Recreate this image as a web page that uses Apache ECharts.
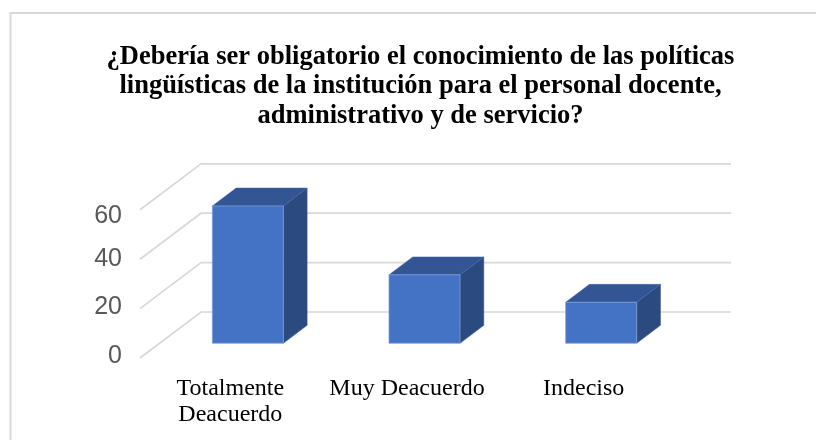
<!DOCTYPE html>
<html>
<head>
<meta charset="utf-8">
<style>
html,body{margin:0;padding:0;background:#fff;}
#c{width:816px;height:440px;}
</style>
<script src="https://cdn.jsdelivr.net/npm/echarts@6/dist/echarts.min.js"></script>
</head>
<body>
<div id="c"></div>
<script>
var titleLines = [
  '¿Debería ser obligatorio el conocimiento de las políticas',
  'lingüísticas de la institución para el personal docente,',
  'administrativo y de servicio?'
];
var categories = ['Totalmente\nDeacuerdo', 'Muy Deacuerdo', 'Indeciso'];
var values = [55.6, 27.7, 16.6];
var ticks = [0, 20, 40, 60];

// Oblique projection of the depth axis (px) and placement of bars within it
var floorDX = 61, floorDY = -46;
var barStart = 0.32, barDepth = 0.39, barWidthRatio = 0.402;

function shift(p, t) { return [p[0] + floorDX * t, p[1] + floorDY * t]; }

function renderBar(params, api) {
  var cat = api.value(0), val = api.value(1);
  var base = api.coord([cat, 0]), top = api.coord([cat, val]);
  var w = api.size([1, 0])[0] * barWidthRatio;
  var a0 = shift([base[0] - w / 2, base[1]], barStart);
  var b0 = shift([base[0] + w / 2, base[1]], barStart);
  var a1 = shift([base[0] - w / 2, top[1]], barStart);
  var b1 = shift([base[0] + w / 2, top[1]], barStart);
  var d = barDepth;
  return {
    type: 'group',
    children: [
      { type: 'polygon', shape: { points: [b0, b1, shift(b1, d), shift(b0, d)] },
        style: { fill: '#2B4A80', stroke: '#3A5E9C', lineWidth: 0.5 } },
      { type: 'polygon', shape: { points: [a1, b1, shift(b1, d), shift(a1, d)] },
        style: { fill: '#335594', stroke: '#3F68AE', lineWidth: 0.5 } },
      { type: 'polygon', shape: { points: [a0, b0, b1, a1] },
        style: { fill: '#4472C4', stroke: '#7F9FD8', lineWidth: 0.75 } }
    ]
  };
}

function renderWall(params, api) {
  var v = api.value(0);
  var left = api.coord([0, v]);
  var xEnd = api.coord([categories.length - 1, v])[0] + api.size([1, 0])[0] / 2;
  left[0] -= api.size([1, 0])[0] / 2;
  var back = shift(left, 1);
  return {
    type: 'polyline',
    shape: { points: [left, back, [xEnd + floorDX, back[1]]] },
    style: { stroke: '#D9D9D9', lineWidth: 1.7, fill: 'none' }
  };
}

function tickRich(pad) {
  return {
    fontFamily: '"Liberation Sans"', fontSize: 25, color: '#595959',
    padding: pad
  };
}

var chart = echarts.init(document.getElementById('c'), null, { renderer: 'canvas' });
chart.setOption({
  animation: false,
  backgroundColor: '#ffffff',
  title: {
    text: titleLines.join('\n'),
    left: 415.5, top: 37, textAlign: 'center',
    textStyle: {
      fontFamily: '"Liberation Serif"', fontWeight: 'bold', fontSize: 26.5,
      lineHeight: 29.5, color: '#000000'
    }
  },
  grid: { left: 140, top: 209.8, width: 530, height: 148.2 },
  xAxis: {
    type: 'category', data: categories,
    axisLine: { show: false }, axisTick: { show: false },
    axisLabel: {
      fontFamily: '"Liberation Serif"', fontSize: 24, color: '#000000',
      lineHeight: 26.5, margin: 17, interval: 0, padding: [0, 0, 0, 4]
    }
  },
  yAxis: {
    type: 'value', min: ticks[0], max: ticks[ticks.length - 1], interval: 20,
    axisLine: { show: false }, axisTick: { show: false }, splitLine: { show: false },
    axisLabel: {
      margin: 18,
      formatter: function (v) { return '{n' + v + '|' + v + '}'; },
      rich: {
        n0: tickRich([0, 0, 4, 0]),
        n20: tickRich([0, 0, 3, 0]),
        n40: tickRich([0, 0, 0, 0]),
        n60: tickRich([12, 0, 0, 0])
      }
    }
  },
  series: [
    { type: 'custom', name: 'Rejilla', data: ticks.map(function (t) { return [t]; }),
      encode: { y: 0 }, renderItem: renderWall, silent: true, z: 1 },
    { type: 'custom', name: 'Respuestas', data: values.map(function (v, i) { return [i, v]; }),
      encode: { x: 0, y: 1 }, renderItem: renderBar, z: 2 }
  ],
  graphic: [
    { type: 'polyline', silent: true,
      shape: { points: [[10.5, 440], [10.5, 13], [816, 13]] },
      style: { stroke: '#D9D9D9', lineWidth: 2, fill: 'none' } }
  ]
});
</script>
</body>
</html>
